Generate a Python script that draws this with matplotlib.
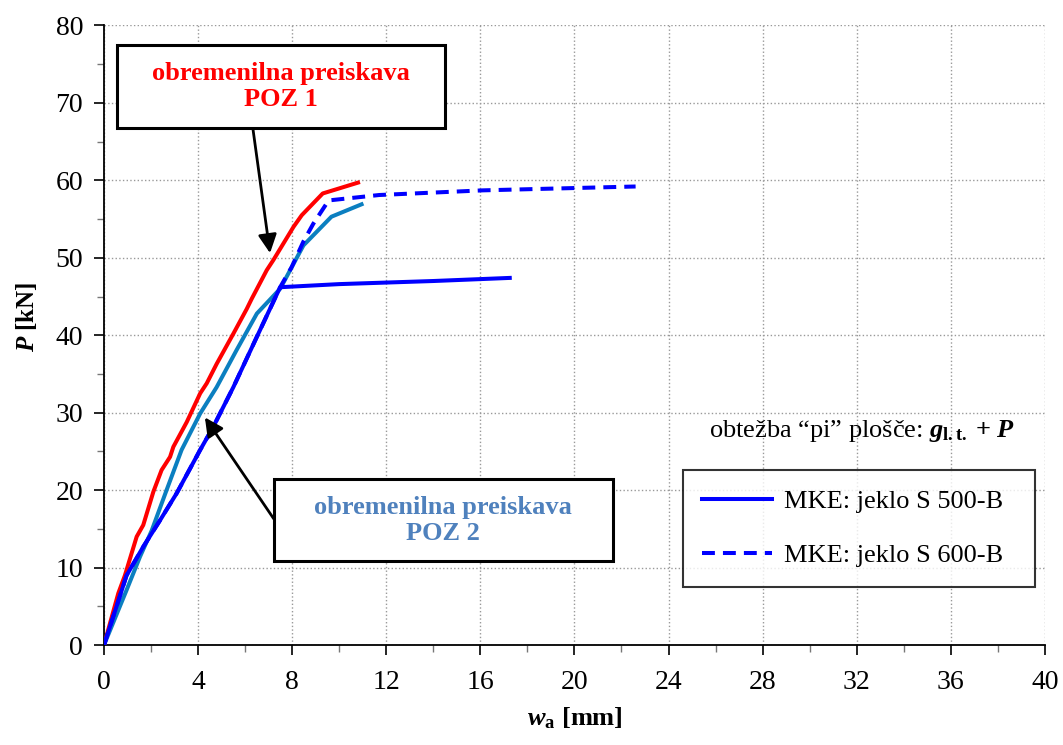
import numpy as np
import matplotlib
matplotlib.use('Agg')
import matplotlib.pyplot as plt
from matplotlib.patches import Rectangle
from matplotlib.ticker import MultipleLocator

plt.rcParams['font.family'] = ['Liberation Serif', 'DejaVu Serif']
plt.rcParams['mathtext.fontset'] = 'custom'
plt.rcParams['mathtext.rm'] = 'Liberation Serif'
plt.rcParams['mathtext.it'] = 'Liberation Serif:italic'
plt.rcParams['mathtext.bf'] = 'Liberation Serif:bold'
plt.rcParams['mathtext.bfit'] = 'Liberation Serif:bold:italic'

# ===== podatki =====
# obremenilna preiskava POZ 1
w_poz1 = [0, 0.61, 0.89, 1.39, 1.67, 2.1, 2.45, 2.81, 2.95, 3.52, 4.09, 4.37,
          4.79, 5.5, 6.07, 6.28, 6.92, 7.2, 8.06, 8.41, 9.3, 10.8]
P_poz1 = [0, 6.7, 9.0, 14.0, 15.5, 19.8, 22.6, 24.3, 25.6, 28.8, 32.5, 33.8,
          36.3, 40.2, 43.4, 44.7, 48.4, 49.7, 54.0, 55.5, 58.3, 59.7]

# obremenilna preiskava POZ 2
w_poz2 = [0, 0.96, 1.53, 2.03, 2.66, 3.3, 4.09, 4.79, 5.64, 6.5, 7.49, 8.48, 9.67, 10.95]
P_poz2 = [0, 7.1, 11.4, 14.8, 20.0, 25.2, 29.9, 33.3, 38.1, 42.8, 46.0, 51.6, 55.3, 56.9]

# MKE: jeklo S 500-B
w_s500 = [0, 0.96, 1.67, 2.38, 3.09, 4.09, 4.65, 5.5, 6.5, 7.49, 10.0, 14.0, 17.25]
P_s500 = [0, 9.0, 12.7, 16.1, 19.6, 25.2, 28.2, 33.3, 39.8, 46.2, 46.6, 47.0, 47.4]

# MKE: jeklo S 600-B
w_s600 = [0, 0.96, 1.67, 2.38, 3.09, 4.09, 4.65, 5.5, 6.5, 7.49, 7.98, 8.48, 8.9,
          9.55, 11.7, 16.1, 22.6]
P_s600 = [0, 9.0, 12.7, 16.1, 19.6, 25.2, 28.2, 33.3, 39.8, 46.2, 48.8, 52.1, 54.4,
          57.4, 58.1, 58.7, 59.2]

c_red = '#ff0000'
c_teal = '#0b7fc0'
c_blue = '#0000ff'
c_txt2 = '#4f81bd'

fig = plt.figure(figsize=(10.63, 7.45), dpi=100)
ax = fig.add_axes([0.0978, 0.134, 0.8852, 0.832])

ax.plot(w_poz2, P_poz2, color=c_teal, lw=2.9, zorder=3)
ax.plot(w_poz1, P_poz1, color=c_red, lw=2.9, zorder=4)
ax.plot(w_s600, P_s600, color=c_blue, lw=2.9, ls='--', dashes=(3.2, 2.0),
        label='MKE: jeklo S 600-B', zorder=5)
ax.plot(w_s500, P_s500, color=c_blue, lw=2.9, label='MKE: jeklo S 500-B', zorder=6)

ax.set_xlim(0, 40)
ax.set_ylim(0, 80)
ax.xaxis.set_major_locator(MultipleLocator(4))
ax.xaxis.set_minor_locator(MultipleLocator(2))
ax.yaxis.set_major_locator(MultipleLocator(10))
ax.yaxis.set_minor_locator(MultipleLocator(5))
ax.tick_params(which='major', direction='out', length=7, width=1.2, labelsize=20, pad=8)
ax.tick_params(which='minor', direction='out', length=5, width=1.0, color='#777777')
ax.tick_params(axis='x', which='major', pad=11)
ax.grid(True, which='major', ls=':', color='#999999', lw=1.0)
ax.spines['top'].set_visible(False)
ax.spines['right'].set_visible(False)
ax.spines['left'].set_linewidth(1.3)
ax.spines['bottom'].set_linewidth(1.3)

ax.set_xlabel(r'$\mathbfit{w}_{\mathbf{a}}$ [mm]', fontsize=19, fontweight='bold')
ax.xaxis.set_label_coords(0.5, -0.097)
ax.set_ylabel(r'$\mathbfit{P}$ [kN]', fontsize=18, fontweight='bold')
ax.yaxis.set_label_coords(-0.069, 0.53)

# okvirji z opisi
ax.add_patch(Rectangle((0.55, 66.7), 13.95, 10.8, facecolor='white', edgecolor='black',
                       lw=2.2, zorder=7))
ax.text(7.52, 72.1, 'obremenilna preiskava\nPOZ 1', color=c_red, fontsize=19,
        fontweight='bold', ha='center', va='center', linespacing=1.12, zorder=8)
ax.annotate('', xy=(7.06, 50.6), xytext=(6.33, 66.7),
            arrowprops=dict(arrowstyle='-|>', color='black', lw=2.0,
                            mutation_scale=28, shrinkA=0, shrinkB=0), zorder=6)

ax.add_patch(Rectangle((7.22, 10.8), 14.4, 10.6, facecolor='white', edgecolor='black',
                       lw=2.2, zorder=7))
ax.text(14.42, 16.1, 'obremenilna preiskava\nPOZ 2', color=c_txt2, fontsize=19,
        fontweight='bold', ha='center', va='center', linespacing=1.12, zorder=8)
ax.annotate('', xy=(4.29, 29.4), xytext=(7.22, 16.3),
            arrowprops=dict(arrowstyle='-|>', color='black', lw=2.0,
                            mutation_scale=28, shrinkA=0, shrinkB=0), zorder=6)

# legenda
ax.text(0.806, 0.345, 'obtežba “pi” plošče: ' + r'$\mathbfit{g}_{\mathbf{l.t.}}\ \mathbf{+}\ \mathbfit{P}$',
        transform=ax.transAxes, fontsize=19, ha='center', va='center')
handles, labels = ax.get_legend_handles_labels()
leg = ax.legend(handles[::-1], labels[::-1], loc='center',
                bbox_to_anchor=(0.615, 0.097, 0.374, 0.182), mode='expand',
                borderaxespad=0, fontsize=19, frameon=True, fancybox=False,
                handlelength=2.65, labelspacing=1.15, borderpad=0.75,
                handletextpad=0.45)
leg.get_frame().set_edgecolor('black')
leg.get_frame().set_linewidth(1.5)
leg.set_zorder(10)

fig.savefig('out.png', dpi=100)
plt.close(fig)
